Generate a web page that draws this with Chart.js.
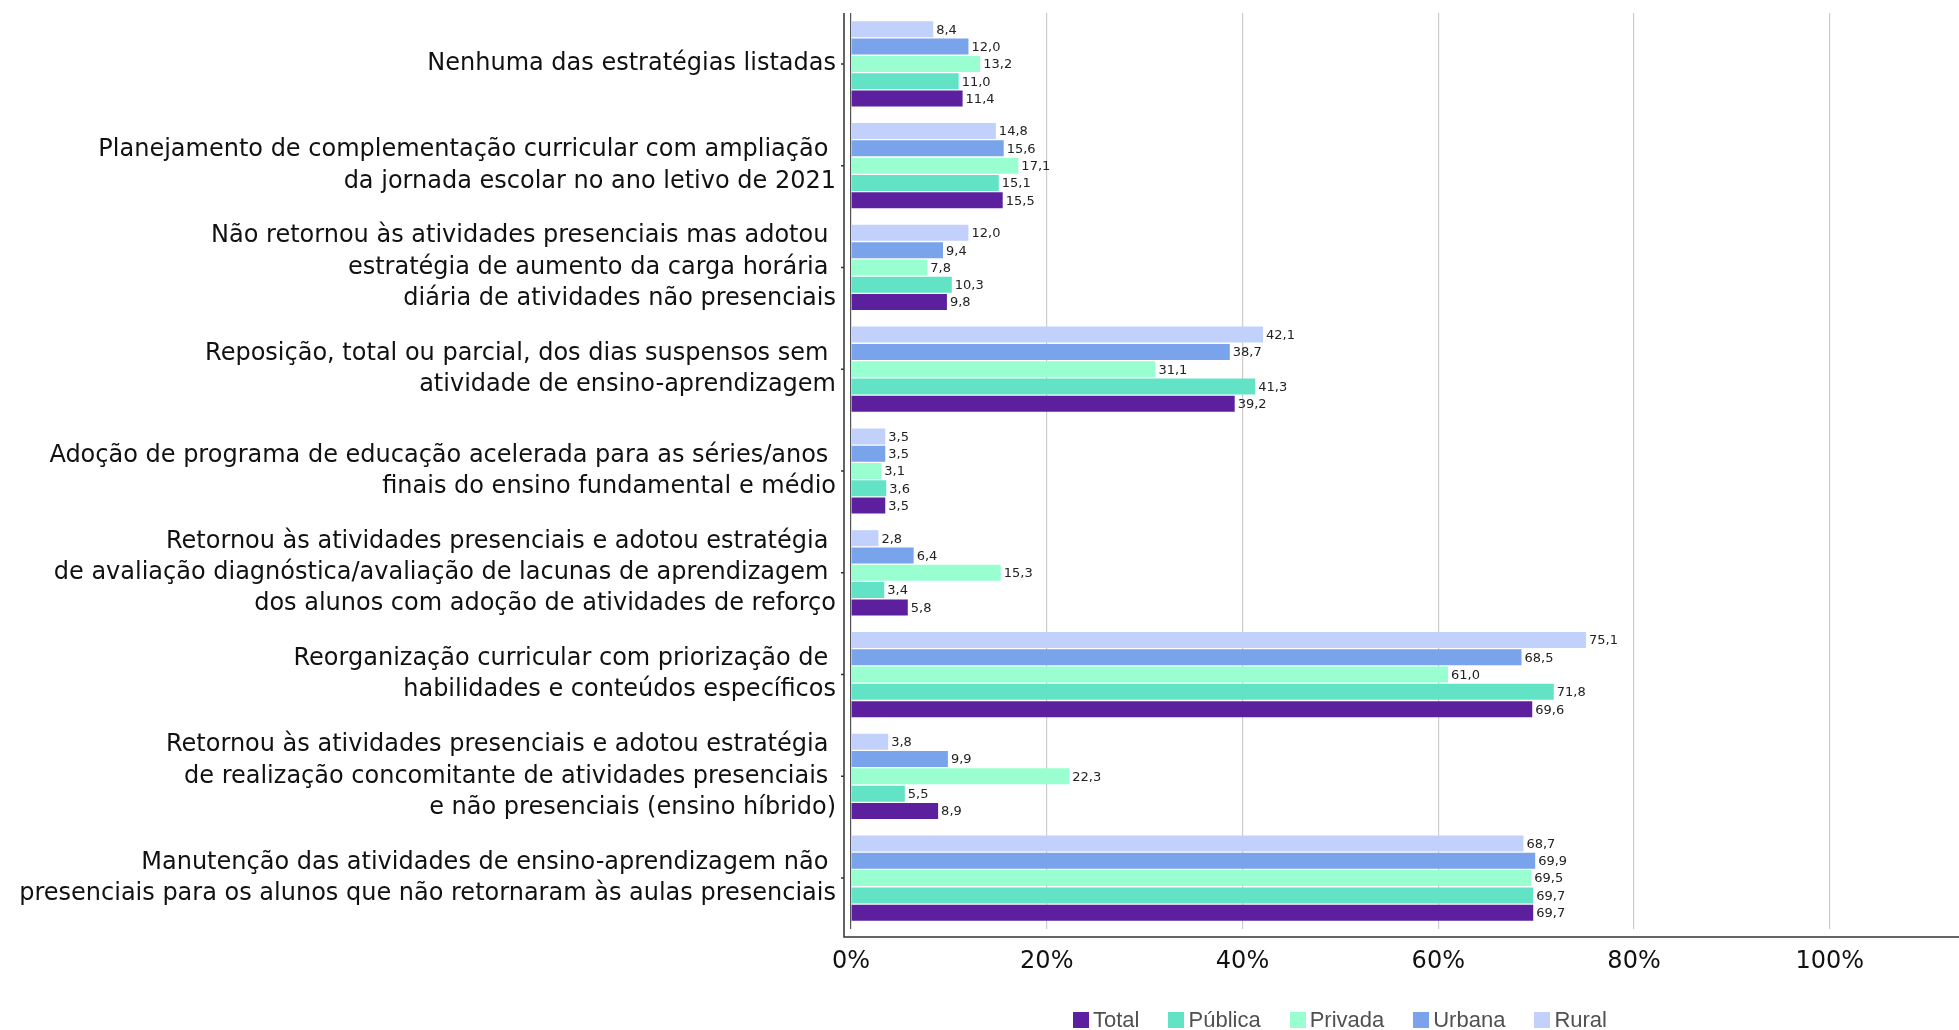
<!DOCTYPE html>
<html><head><meta charset="utf-8">
<script src="https://cdn.jsdelivr.net/npm/chart.js@4.4.0/dist/chart.umd.min.js"></script>
<style>
html,body{margin:0;padding:0;background:#fff;}
#wrap{position:relative;width:1959px;height:1030px;overflow:hidden;}
#legend{position:absolute;top:1009px;left:1073px;display:flex;font-family:"Liberation Sans",Arial,sans-serif;font-size:22px;line-height:22px;color:#505050;}
.item{display:flex;align-items:center;margin-right:29px}
.sw{width:16px;height:16px;margin-right:4px}
</style></head>
<body><div id="wrap"><canvas id="c" width="1959" height="1030"></canvas><div id="legend"></div></div>
<script>
const categories = [
  ["Nenhuma das estratégias listadas"],
  ["Planejamento de complementação curricular com ampliação ", "da jornada escolar no ano letivo de 2021"],
  ["Não retornou às atividades presenciais mas adotou ", "estratégia de aumento da carga horária ", "diária de atividades não presenciais"],
  ["Reposição, total ou parcial, dos dias suspensos sem ", "atividade de ensino-aprendizagem"],
  ["Adoção de programa de educação acelerada para as séries/anos ", "finais do ensino fundamental e médio"],
  ["Retornou às atividades presenciais e adotou estratégia ", "de avaliação diagnóstica/avaliação de lacunas de aprendizagem ", "dos alunos com adoção de atividades de reforço"],
  ["Reorganização curricular com priorização de ", "habilidades e conteúdos específicos"],
  ["Retornou às atividades presenciais e adotou estratégia ", "de realização concomitante de atividades presenciais ", "e não presenciais (ensino híbrido)"],
  ["Manutenção das atividades de ensino-aprendizagem não ", "presenciais para os alunos que não retornaram às aulas presenciais"]
];
const total   = [11.4, 15.5,  9.8, 39.2, 3.5,  5.8, 69.6,  8.9, 69.7];
const publica = [11.0, 15.1, 10.3, 41.3, 3.6,  3.4, 71.8,  5.5, 69.7];
const privada = [13.2, 17.1,  7.8, 31.1, 3.1, 15.3, 61.0, 22.3, 69.5];
const urbana  = [12.0, 15.6,  9.4, 38.7, 3.5,  6.4, 68.5,  9.9, 69.9];
const rural   = [ 8.4, 14.8, 12.0, 42.1, 3.5,  2.8, 75.1,  3.8, 68.7];
const xTicks  = [0, 20, 40, 60, 80, 100];
const xMax = 113.2;

// datasets listed top-to-bottom within each group
const datasets = [
  {label:'Rural',   data:rural,   backgroundColor:'#c2d1fc'},
  {label:'Urbana',  data:urbana,  backgroundColor:'#79a3ea'},
  {label:'Privada', data:privada, backgroundColor:'#99ffd0'},
  {label:'Pública', data:publica, backgroundColor:'#62e3c6'},
  {label:'Total',   data:total,   backgroundColor:'#5c1f9e'}
];

const axisPlugin = {
  id:'axesLines',
  afterDraw(chart){
    const {ctx, chartArea:a, scales:{y}} = chart;
    ctx.save();
    ctx.strokeStyle = '#333'; ctx.lineWidth = 1.5;
    const ax = a.left - 7, ay = a.bottom + 8;
    ctx.beginPath();
    ctx.moveTo(ax, a.top); ctx.lineTo(ax, ay); ctx.lineTo(a.right, ay);
    y.ticks.forEach((t,i)=>{ const py = y.getPixelForTick(i); ctx.moveTo(ax-3, py); ctx.lineTo(ax, py); });
    ctx.stroke();
    ctx.restore();
  }
};
const valuePlugin = {
  id:'values',
  afterDatasetsDraw(chart){
    const ctx = chart.ctx;
    ctx.save();
    ctx.font = '13px "DejaVu Sans"';
    ctx.fillStyle = '#222';
    ctx.textBaseline = 'middle';
    ctx.textAlign = 'left';
    chart.data.datasets.forEach((ds, di)=>{
      const meta = chart.getDatasetMeta(di);
      meta.data.forEach((el, i)=>{
        ctx.fillText(ds.data[i].toFixed(1).replace('.', ','), el.x + 3, el.y + 1);
      });
    });
    ctx.restore();
  }
};

const chart = new Chart(document.getElementById('c'), {
  type:'bar',
  data:{labels:categories, datasets:datasets},
  options:{
    indexAxis:'y',
    responsive:false,
    devicePixelRatio:1,
    animation:false,
    layout:{padding:{top:13,right:0,bottom:0,left:0}},
    datasets:{bar:{categoryPercentage:0.85, barPercentage:0.925}},
    plugins:{legend:{display:false}, tooltip:{enabled:false}},
    scales:{
      x:{
        min:0, max:xMax,
        afterBuildTicks(s){ s.ticks = xTicks.map(v=>({value:v})); },
        afterFit(s){ s.height = 1030 - 13 - 916; s.paddingLeft = 0; s.paddingRight = 0; },
        grid:{color:(c)=>c.tick && c.tick.value===0 ? '#555555' : '#cccccc', lineWidth:1.2, drawTicks:false},
        border:{display:false},
        ticks:{padding:18, color:'#111', font:{family:'"DejaVu Sans"', size:24}, callback:(v)=>v+'%'}
      },
      y:{
        afterFit(s){ s.width = 851; s.paddingTop = 0; s.paddingBottom = 0; },
        grid:{display:false},
        border:{display:false},
        ticks:{padding:7, color:'#111', font:{family:'"DejaVu Sans"', size:24, lineHeight:1.3}}
      }
    }
  },
  plugins:[axisPlugin, valuePlugin]
});

const lg = document.getElementById('legend');
[...datasets].reverse().forEach(d=>{
  const it = document.createElement('div'); it.className='item';
  const sw = document.createElement('div'); sw.className='sw'; sw.style.background=d.backgroundColor;
  const tx = document.createElement('span'); tx.textContent=d.label;
  it.appendChild(sw); it.appendChild(tx); lg.appendChild(it);
});
</script>
</body></html>
